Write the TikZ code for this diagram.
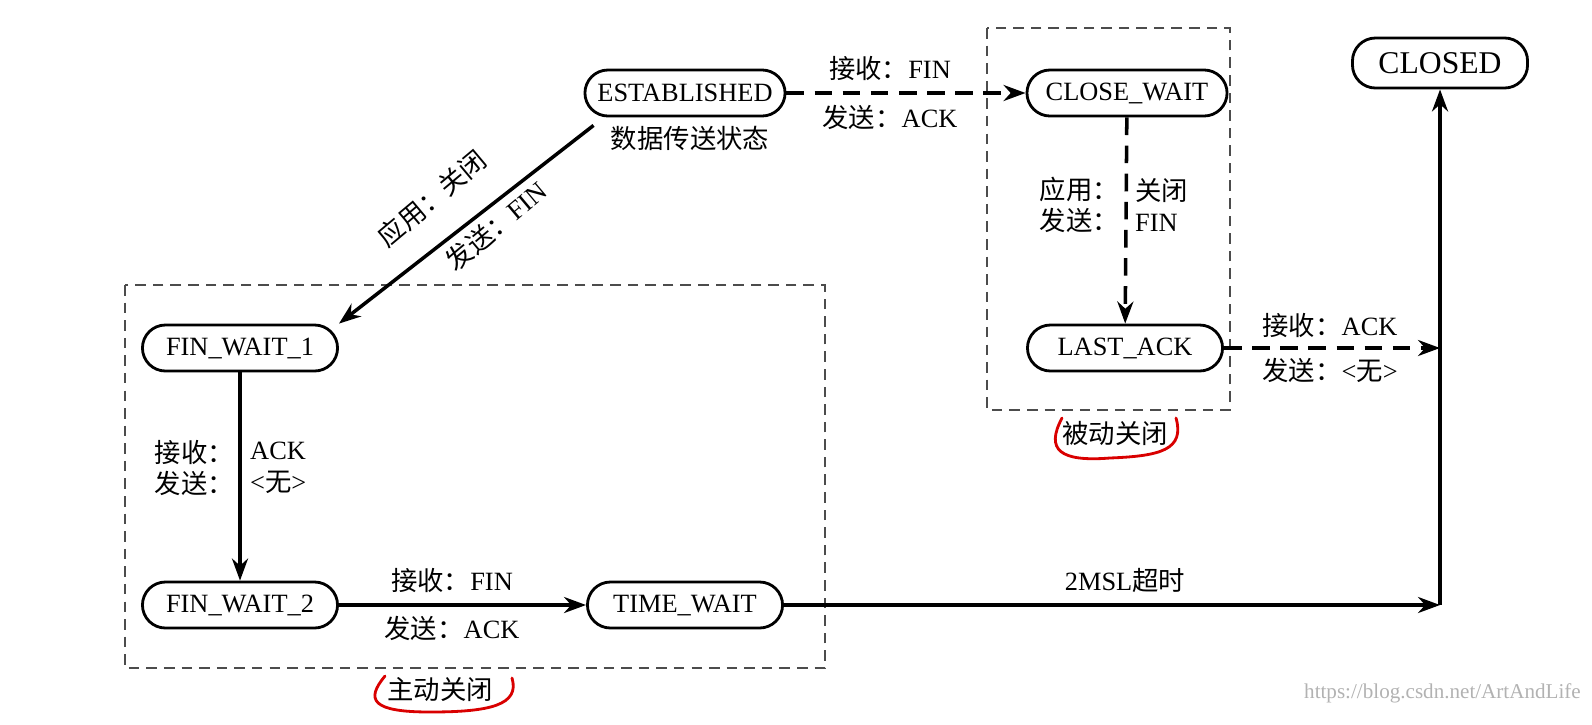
\documentclass[tikz,border=0pt]{standalone}
\usepackage{fontspec}
\setmainfont{Liberation Serif}
\newfontfamily\cjk{Noto Sans CJK SC}
\usetikzlibrary{arrows.meta}

\begin{document}
\begin{tikzpicture}
[
    x = 0.01cm, y = -0.01cm,
    font = \fontsize{7.5}{9}\selectfont,
    state/.style = {draw, thick,
                    rounded corners=2.3mm,
                    minimum width=1.95cm,
                    minimum height=0.46cm,
                    inner sep=1pt},
    arr/.style   = {line width=1pt,
                    -{Stealth[length=2.2mm,width=1.6mm]}},
    darr/.style  = {arr, dashed, dash pattern=on 5pt off 3pt},
    box/.style   = {draw, thin, dashed, dash pattern=on 3pt off 2pt, gray!60!black},
    lbl/.style   = {inner sep=1pt},
    redmark/.style = {red!85!black, thick, line cap=round}
]
\path[use as bounding box] (0,0) rectangle (1592,724);

% dashed boxes
\draw[box] (125,285) rectangle (825,668);
\draw[box] (987,28) rectangle (1230,410);

\node (est) [state, minimum width=2cm] at (685,93) {ESTABLISHED};
\node (cw)  [state, minimum width=2cm] at (1127,93) {CLOSE\_WAIT};
\node (cl)  [state, minimum width=1.75cm, minimum height=0.5cm, font=\fontsize{9}{10}\selectfont] at (1440,63) {CLOSED};
\node (fw1) [state] at (240,348) {FIN\_WAIT\_1};
\node (la)  [state] at (1125,348) {LAST\_ACK};
\node (fw2) [state] at (240,605) {FIN\_WAIT\_2};
\node (tw)  [state] at (685,605) {TIME\_WAIT};

\coordinate (j1) at (1440,348);
\coordinate (j2) at (1440,605);

\node (estl) [lbl] at (690,138) {\cjk 数据传送状态};

\draw[darr] (est) -- (cw);
\node [lbl] at (890,68)  {{\cjk 接收：}FIN};
\node [lbl] at (890,117) {{\cjk 发送：}ACK};

\draw[arr] (est.south west) ++(10,8) -- (fw1.north east) ;
\node [lbl, rotate=40] at (432,198) {\cjk 应用：关闭};
\node [lbl, rotate=40] at (496,226) {{\cjk 发送：}FIN};

\draw[darr] (cw) -- (la);
\node [lbl, anchor=east, align=right] at (1123,205) {\cjk 应用：\\\cjk 发送：};
\node [lbl, anchor=west, align=left] at (1131,205) {\cjk 关闭\\FIN};

\draw[arr] (fw1) -- (fw2);
\node [lbl, anchor=east, align=right] at (238,468) {\cjk 接收：\\\cjk 发送：};
\node [lbl, anchor=west, align=left] at (246,468) {ACK\\<{\cjk 无}>};

\draw[arr] (fw2) -- (tw);
\node [lbl] at (452,580) {{\cjk 接收：}FIN};
\node [lbl] at (452,628) {{\cjk 发送：}ACK};

\draw[darr] (la) -- (j1);
\node [lbl] at (1330,325) {{\cjk 接收：}ACK};
\node [lbl] at (1330,370) {{\cjk 发送：}<{\cjk 无}>};

\draw[arr] (tw) -- (j2);
\node [lbl] at (1125,580) {2MSL{\cjk 超时}};

\draw[arr] (j2) -- (cl);

% hand marks
\node (pas) [lbl] at (1115,433) {\cjk 被动关闭};
\draw[redmark] (1062,418) .. controls (1045,450) and (1060,462) .. (1110,458)
            .. controls (1160,456) and (1185,450) .. (1176,418);
\node (act) [lbl] at (440,690) {\cjk 主动关闭};
\draw[redmark] (385,676) .. controls (365,700) and (372,712) .. (430,712)
            .. controls (490,712) and (520,705) .. (512,678);

\node [lbl, anchor=east, gray!60, font=\fontsize{6}{7}\selectfont] at (1585,693) {https://blog.csdn.net/ArtAndLife};
\end{tikzpicture}
\end{document}
